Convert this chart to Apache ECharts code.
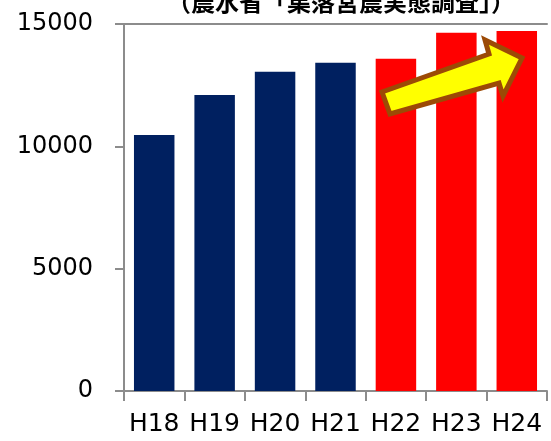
<!DOCTYPE html>
<html>
<head>
<meta charset="utf-8">
<script src="https://cdn.jsdelivr.net/npm/echarts@6/dist/echarts.min.js"></script>
<style>
  html, body { margin: 0; padding: 0; background: #fff; }
  #main { width: 551px; height: 441px; }
</style>
</head>
<body>
<div id="main"></div>
<script>
// 集落営農数の推移
var years = ['H18', 'H19', 'H20', 'H21', 'H22', 'H23', 'H24'];
var counts = [10460, 12100, 13050, 13420, 13580, 14640, 14710];
var barColors = ['#002060', '#002060', '#002060', '#002060', '#ff0000', '#ff0000', '#ff0000'];
var yTicks = [0, 5000, 10000, 15000];

var myChart = echarts.init(document.getElementById('main'));

var axisGray = '#8c8c8c';

var option = {
  animation: false,
  title: {
    text: '（農水省「集落営農実態調査」）',
    left: 336,
    textAlign: 'center',
    top: -15,
    textStyle: {
      fontFamily: 'Noto Sans CJK JP',
      fontWeight: 'bold',
      fontSize: 24,
      color: '#000'
    }
  },
  grid: { left: 124, right: 4, top: 24, bottom: 50 },
  xAxis: [{
    type: 'category',
    data: years,
    axisLine: { lineStyle: { color: axisGray, width: 2 } },
    axisTick: { show: true, length: 10, lineStyle: { color: axisGray, width: 2 } },
    axisLabel: {
      interval: 0,
      margin: 21,
      fontFamily: 'DejaVu Sans',
      fontSize: 25,
      color: '#000'
    }
  }, {
    // 上端の線
    type: 'category',
    data: years,
    position: 'top',
    axisLine: { lineStyle: { color: axisGray, width: 2 } },
    axisTick: { show: false },
    axisLabel: { show: false }
  }],
  yAxis: {
    type: 'value',
    min: yTicks[0],
    max: yTicks[yTicks.length - 1],
    interval: 5000,
    splitLine: { show: false },
    axisLine: { show: true, lineStyle: { color: axisGray, width: 2 } },
    axisTick: { show: true, length: 9, lineStyle: { color: axisGray, width: 2 } },
    axisLabel: {
      margin: 31,
      fontFamily: 'DejaVu Sans',
      fontSize: 24,
      color: '#000',
      formatter: function (v) { return String(v); }
    }
  },
  series: [{
    type: 'bar',
    barWidth: '67%',
    data: counts.map(function (v, i) {
      return { value: v, itemStyle: { color: barColors[i] } };
    })
  }],
  graphic: [{
    type: 'polygon',
    z: 100,
    shape: {
      points: [[382, 92], [489, 54], [485, 40], [522, 58], [503, 96], [499, 83], [390, 114]]
    },
    style: {
      fill: '#ffff00',
      stroke: '#9c4a06',
      lineWidth: 5,
      lineJoin: 'miter'
    }
  }]
};

myChart.setOption(option);
</script>
</body>
</html>
